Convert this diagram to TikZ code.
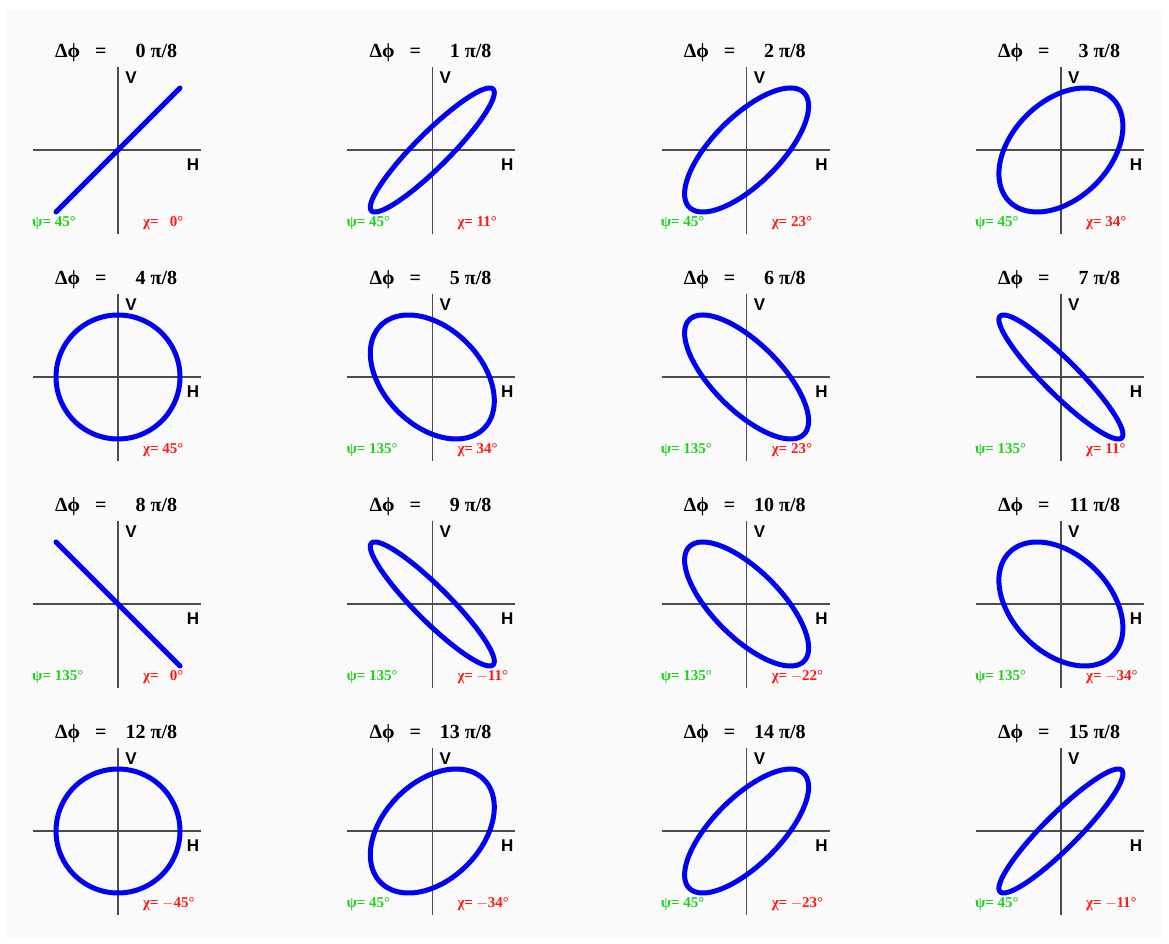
\documentclass[tikz,border=0pt]{standalone}
\usepackage{fontspec}
\setmainfont{Liberation Serif}
\setsansfont{Liberation Sans}
\definecolor{psigreen}{RGB}{30,210,30}
\definecolor{chired}{RGB}{255,25,25}
\definecolor{ellblue}{RGB}{0,0,245}
\tikzset{
  axisline/.style={line width=1.3pt,black!70},
  polcurve/.style={line width=5pt,ellblue,line join=round,line cap=round},
  dphilabel/.style={anchor=west,font=\fontsize{20}{20}\selectfont\bfseries,inner sep=0pt},
  axlabel/.style={font=\fontsize{17}{17}\sffamily\bfseries,inner sep=0pt},
  psilabel/.style={anchor=west,psigreen,font=\fontsize{15}{15}\selectfont\bfseries,inner sep=0pt},
  chilabel/.style={anchor=west,chired,font=\fontsize{15}{15}\selectfont\bfseries,inner sep=0pt}
}
\begin{document}
\begin{tikzpicture}[x=1pt,y=1pt]
\useasboundingbox (0,0) rectangle (1169,944);
\fill[black!2](6,6) rectangle (1163,934);
% one panel for every phase step n*pi/8
\foreach \n/\pa/\ch in {0/45/\ \ 0,1/45/11,2/45/23,3/45/34,
  4//45,5/135/34,6/135/23,7/135/11,
  8/135/\ \ 0,9/135/$-$11,10/135/$-$22,11/135/$-$34,
  12//$-$45,13/45/$-$34,14/45/$-$23,15/45/$-$11}{
\pgfmathsetmacro\cx{118+314.3*mod(\n,4)}
\pgfmathsetmacro\cy{794-227*div(\n,4)}
\begin{scope}[shift={(\cx,\cy)}]
\coordinate (o\n) at (0,0);
\draw[axisline](-85,0)--(83,0);\draw[axisline](0,83)--(0,-84);
\draw[polcurve] plot[domain=0:360,samples=121,smooth]({62*cos(\x)},{62*cos(\x-22.5*\n)});
\node[dphilabel] (t\n) at (-63,97){Δϕ\ \ \ =\ \ \ \makebox[1.2em][r]{\n}\ π/8};
\node[axlabel] (v\n) at (13,72){V};\node[axlabel] (h\n) at (75,-15){H};
\ifx\pa\empty\else\node[psilabel] (p\n) at (-86,-73){ψ= \pa°};\fi
\node[chilabel] (c\n) at (25,-73){χ= \ch°};
\end{scope}}
\end{tikzpicture}
\end{document}
